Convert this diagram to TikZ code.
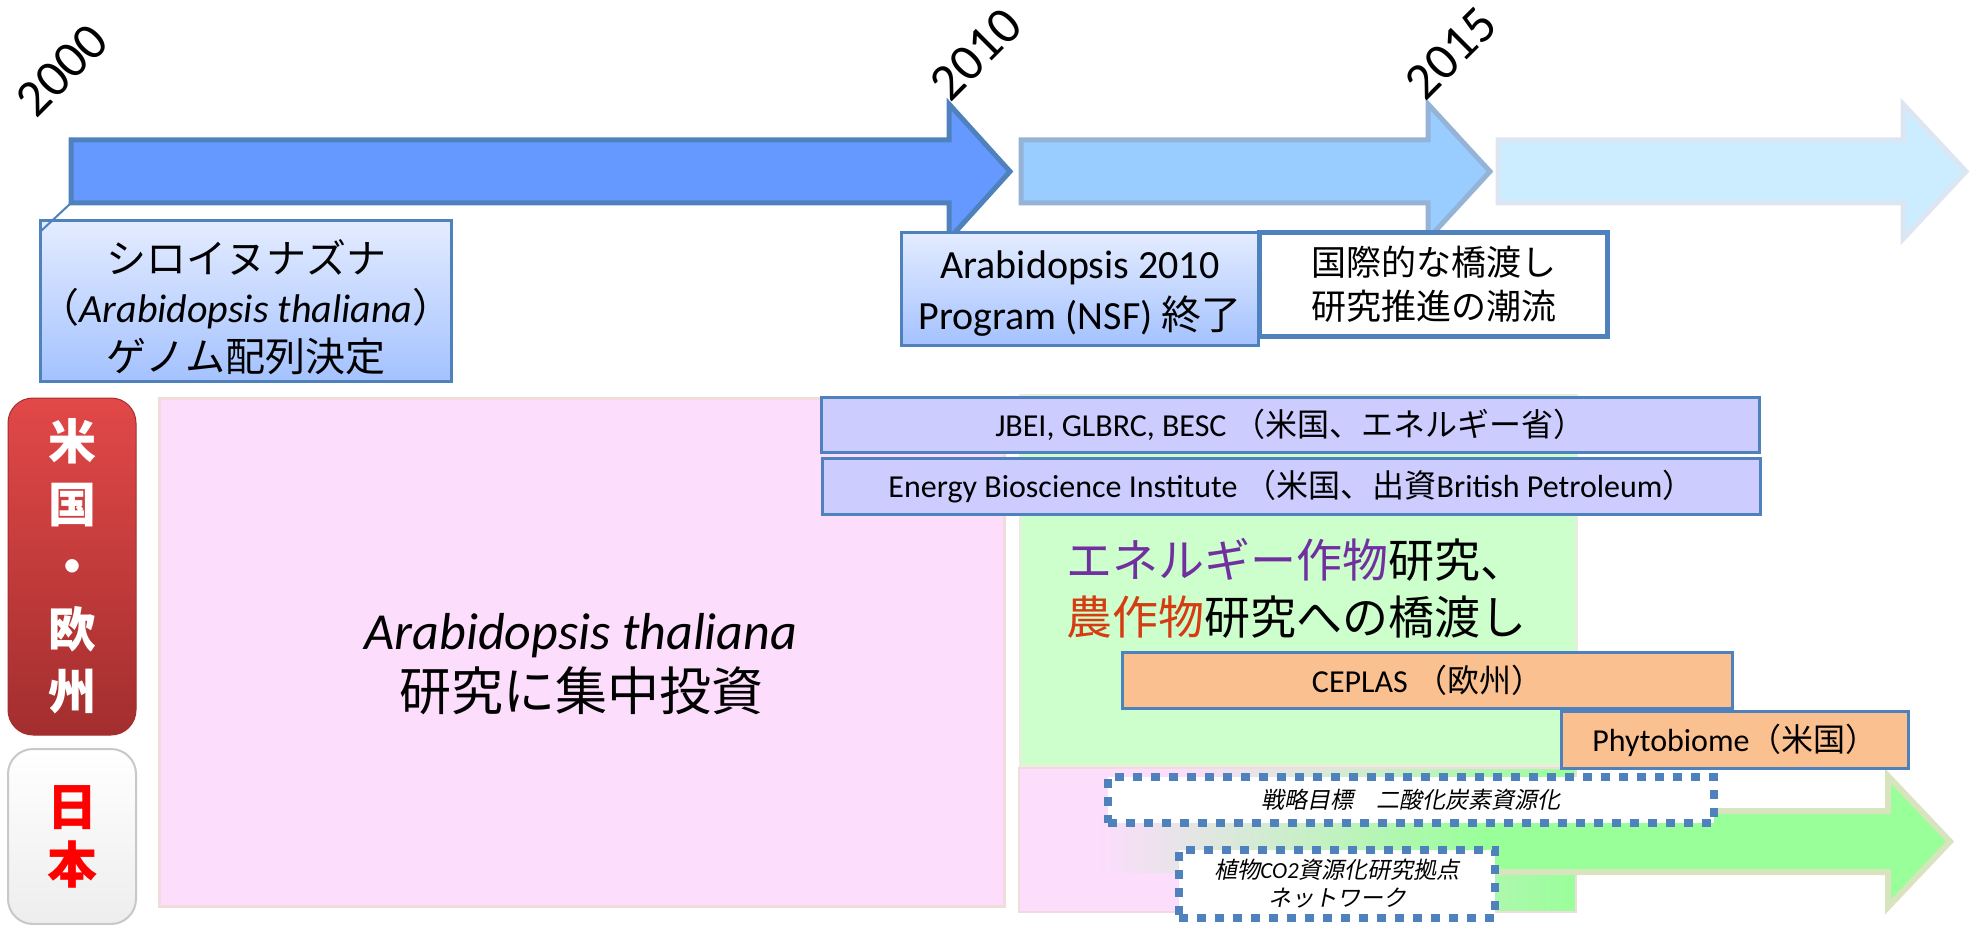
\documentclass[tikz,border=0pt]{standalone}
\usepackage{fontspec}
\setmainfont{Carlito}
\newfontfamily\jp{Noto Sans CJK JP}
\newfontfamily\jpit{Noto Sans CJK JP}[FakeSlant=0.2]
\usetikzlibrary{calc}
\newcommand\setfs[2]{\fontsize{#1}{#2}\selectfont}

\definecolor{arrA}{HTML}{6699FF}
\definecolor{arrAedge}{HTML}{4F81BD}
\definecolor{arrB}{HTML}{99CCFF}
\definecolor{arrBedge}{HTML}{95B3D7}
\definecolor{arrC}{HTML}{CCECFF}
\definecolor{arrCedge}{HTML}{DCE6F2}
\definecolor{edge}{HTML}{4F81BD}
\definecolor{boxtop}{HTML}{E4ECFF}
\definecolor{boxbot}{HTML}{A4C2FF}
\definecolor{pinkbg}{HTML}{FCDDFC}
\definecolor{pinkedge}{HTML}{F2DCDB}
\definecolor{greenbg}{HTML}{CCFFCC}
\definecolor{greenedge}{HTML}{E4F0DC}
\definecolor{lav}{HTML}{CCCCFF}
\definecolor{peach}{HTML}{FAC090}
\definecolor{garrow}{HTML}{99FF99}
\definecolor{garrowedge}{HTML}{D7E4BD}
\definecolor{purp}{HTML}{7030A0}
\definecolor{orred}{HTML}{D63C12}
\definecolor{redtop}{HTML}{E24848}
\definecolor{redbot}{HTML}{A32E2E}
\definecolor{tagedge}{HTML}{C8C8C8}

\tikzset{
  tarrow/.style={line width=5pt, line join=miter, miter limit=10},
  gradbox/.style={draw=edge, line width=3pt, top color=boxtop, bottom color=boxbot,
                  inner sep=0pt, align=center},
  plainbox/.style={draw=edge, line width=5pt, fill=white, inner sep=0pt, align=center},
  bandbox/.style={draw=edge, line width=3pt, fill=lav, inner sep=0pt, font=\setfs{32}{38}},
  peachbox/.style={bandbox, fill=peach},
  dotbox/.style={draw=edge, line width=8pt, dash pattern=on 9pt off 9pt, fill=white,
                 inner sep=0pt, align=center, font=\jpit\setfs{23}{28}},
  yearlbl/.style={rotate=45, font=\setfs{52}{52}, inner sep=0pt},
  region/.style={line width=3pt, inner sep=0pt},
  plaintext/.style={inner sep=0pt, align=center},
  tagbox/.style={rounded corners=25pt, inner sep=0pt, align=center, minimum width=128pt},
}

\begin{document}
\begin{tikzpicture}[x=1pt,y=-1pt]
\useasboundingbox (0,0) rectangle (1977,925);

% ---- background regions ----
\node[region, draw=pinkedge, fill=pinkbg, minimum width=845pt, minimum height=508pt]
  (arabzone) at (582,652.5) {};
\node[plaintext, font=\setfs{52}{61}] (arabtxt) at (581,664)
  {\textit{Arabidopsis thaliana}\\{\jp 研究に集中投資}};

\node[region, draw=greenedge, fill=greenbg, minimum width=556pt, minimum height=370pt]
  (cropzone) at (1298.5,580.5) {};

% lower band fading from pink to green
\fill[pinkbg] (1019,768) rectangle (1576,912);
\shade[left color=pinkbg, right color=garrow] (1175,768) rectangle (1576,912);
\draw[pinkedge, line width=2pt] (1019,768) rectangle (1576,912);

% green arrow (Japan) with faded tail
\shade[left color=pinkbg, right color=garrow] (1100,811) rectangle (1486,872);
\fill[garrow] (1483,811) -- (1888,811) -- (1888,776) -- (1950,841.5)
  -- (1888,907) -- (1888,872) -- (1483,872) -- cycle;
\draw[garrowedge, line width=6pt, line join=miter] (1483,811) -- (1888,811) -- (1888,776)
  -- (1950,841.5) -- (1888,907) -- (1888,872) -- (1483,872);

% ---- programme bands ----
\node[bandbox, minimum width=938pt, minimum height=55pt] (jbei) at (1290.5,425)
  {JBEI, GLBRC, BESC {\jp （米国、エネルギー省）}};
\node[bandbox, minimum width=938pt, minimum height=56pt] (ebi) at (1291.5,486.5)
  {Energy Bioscience Institute {\jp （米国、出資}British Petroleum{\jp ）}};

\node[plaintext, font=\jp\setfs{46}{57}] (croptxt) at (1296,588)
  {{\color{purp}エネルギー作物}研究、\\{\color{orred}農作物}研究への橋渡し};

\node[peachbox, minimum width=610pt, minimum height=56pt] (ceplas) at (1427.5,680.5)
  {CEPLAS {\jp （欧州）}};
\node[peachbox, minimum width=347pt, minimum height=57pt] (phyto) at (1735,740)
  {Phytobiome{\jp （米国）}};

\node[dotbox, minimum width=606pt, minimum height=46pt] (goal) at (1411,800)
  {戦略目標　二酸化炭素資源化};
\node[dotbox, minimum width=316pt, minimum height=68pt] (net) at (1337,884)
  {植物{\rmfamily\itshape CO2}資源化研究拠点\\ネットワーク};

% ---- timeline arrows ----
\filldraw[tarrow, fill=arrA, draw=arrAedge] (71,140) -- (949,140) -- (949,104)
  -- (1010,171.5) -- (949,239) -- (949,203) -- (71,203) -- cycle;
\coordinate (tailA) at (71,203);
\filldraw[tarrow, fill=arrB, draw=arrBedge] (1021,140) -- (1428,140) -- (1428,104)
  -- (1490,171.5) -- (1428,239) -- (1428,203) -- (1021,203) -- cycle;
\filldraw[tarrow, fill=arrC, draw=arrCedge] (1498,140) -- (1903,140) -- (1903,104)
  -- (1966,171.5) -- (1903,239) -- (1903,203) -- (1498,203) -- cycle;

% ---- milestone boxes ----
\node[gradbox, minimum width=411pt, minimum height=161pt] (genome) at (246,301) {};
\node[plaintext, font=\setfs{40}{49}] (genometxt) at (246,307)
  {{\jp シロイヌナズナ}\\{\jp （}\textit{Arabidopsis thaliana}{\jp ）}\\{\jp ゲノム配列決定}};
\draw[edge, line width=2pt] ($(genome.north west)+(2,12)$) -- (tailA);

\node[gradbox, minimum width=357pt, minimum height=113pt] (nsf) at (1080,289) {};
\node[plaintext, font=\setfs{40}{51}] (nsftxt) at (1080,294)
  {Arabidopsis 2010\\Program (NSF) {\jp 終了}};
\node[plainbox, minimum width=348pt, minimum height=104pt, font=\jp\setfs{35}{44}]
  (trend) at (1433.5,284.5) {国際的な橋渡し\\研究推進の潮流};

% ---- year labels ----
\node[yearlbl] (y2000) at (62,70) {2000};
\node[yearlbl] (y2010) at (976,54) {2010};
\node[yearlbl] (y2015) at (1451,53) {2015};

% ---- region tags ----
\node[tagbox, draw=redbot, line width=1pt, top color=redtop, bottom color=redbot,
      minimum height=337pt, text=white, font=\jp\bfseries\setfs{48}{62.5}]
  (westtag) at (72,566.5) {米\\国\\・\\欧\\州};
\node[tagbox, draw=tagedge, line width=2pt, top color=white, bottom color=white!93!black,
      minimum height=175pt, text=red, font=\jp\bfseries\setfs{50}{58}]
  (jptag) at (72,836.5) {日\\本};
\end{tikzpicture}
\end{document}
